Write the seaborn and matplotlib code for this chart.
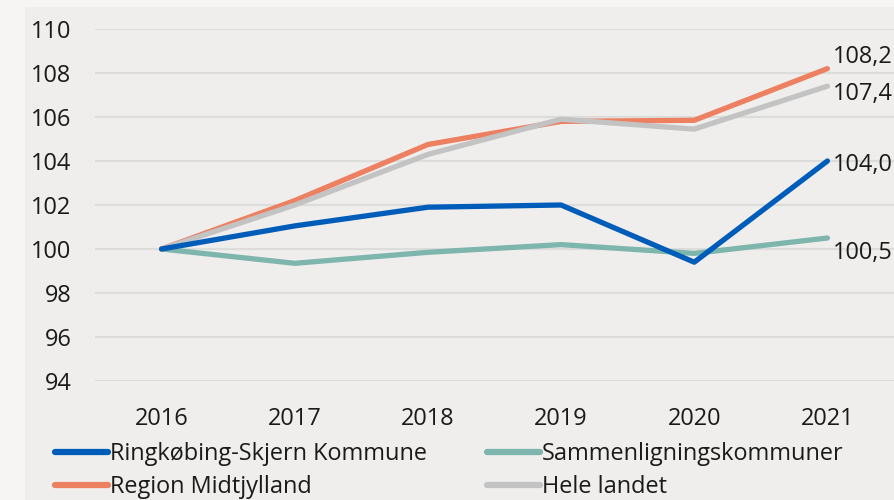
import pandas as pd
import numpy as np
import matplotlib.pyplot as plt
import seaborn as sns
from matplotlib.lines import Line2D

years = ["2016", "2017", "2018", "2019", "2020", "2021"]
series_names = ["Ringkøbing-Skjern Kommune", "Sammenligningskommuner",
                "Region Midtjylland", "Hele landet"]
ringkobing = [100.0, 101.05, 101.9, 102.0, 99.4, 104.0]
sammenlign = [100.0, 99.35, 99.85, 100.2, 99.8, 100.5]
region = [100.0, 102.2, 104.75, 105.8, 105.85, 108.2]
hele_landet = [100.0, 102.0, 104.3, 105.9, 105.45, 107.4]
colors = ["#005cb9", "#7eb6ae", "#ec8060", "#c3c3c3"]
yticks = [94, 96, 98, 100, 102, 104, 106, 108, 110]

rows = []
for name, vals in zip(series_names, [ringkobing, sammenlign, region, hele_landet]):
    for yr, v in zip(years, vals):
        rows.append({"year": yr, "value": v, "serie": name})
df = pd.DataFrame(rows)

sns.set_style("white")
plt.rcParams['font.family'] = ['Open Sans', 'DejaVu Sans']
fs = 16.9

fig = plt.figure(figsize=(8.94, 5), dpi=100, facecolor="#f6f5f4")
# panel background (own axes, behind everything)
bg = fig.add_axes([25 / 894, 0, 1 - 25 / 894, 1 - 7 / 500], zorder=-5)
bg.set_facecolor("#efeeed")
bg.set_xticks([])
bg.set_yticks([])
for s in bg.spines.values():
    s.set_visible(False)

# title, mostly cut off at the top
fig.text(-0.005, 1.028, "Ejendomspriser (2016=100)", fontsize=19, fontweight="bold",
         color="#111111", ha="left", va="center")

ax = fig.add_axes([95 / 894, 1 - 381 / 500, 1 - 95 / 894, (381 - 29) / 500])
ax.set_facecolor("none")

# draw grey and orange first so blue/teal stay on top like the original
order = ["Region Midtjylland", "Hele landet", "Sammenligningskommuner", "Ringkøbing-Skjern Kommune"]
pal = dict(zip(series_names, colors))
for name in order:
    sns.lineplot(data=df[df.serie == name], x="year", y="value", color=pal[name],
                 linewidth=3.8, ax=ax, sort=False, solid_capstyle="round", legend=False)

ax.set_xlim(-0.5, 5.5)
ax.set_ylim(94, 110)
ax.set_yticks(yticks)
ax.yaxis.grid(True, color="#dcdcdb", linewidth=1.6)
ax.set_axisbelow(True)
for s in ax.spines.values():
    s.set_visible(False)
ax.tick_params(axis="y", length=0, pad=17, labelsize=fs, labelcolor="#1a1a1a")
ax.tick_params(axis="x", length=0, pad=19, labelsize=fs, labelcolor="#1a1a1a")
ax.set_xlabel("")
ax.set_ylabel("")

# end labels
last = len(years) - 1
offsets = {"Region Midtjylland": 0.55, "Hele landet": -0.35,
           "Ringkøbing-Skjern Kommune": -0.2, "Sammenligningskommuner": -0.7}
for name, vals in zip(series_names, [ringkobing, sammenlign, region, hele_landet]):
    ax.text(last + 0.04, vals[-1] + offsets[name], f"{vals[-1]:.1f}".replace(".", ","),
            fontsize=fs, color="#1a1a1a", ha="left", va="center", clip_on=False)

# legend filled row-wise: row 1 = kommune + sammenligning, row 2 = region + landet
leg_order = [0, 2, 1, 3]
handles = [Line2D([0], [0], color=colors[i], linewidth=4.5, solid_capstyle="round") for i in leg_order]
labels = [series_names[i] for i in leg_order]
fig.legend(handles, labels, loc="upper left", bbox_to_anchor=(55 / 894, 1 - 442 / 500),
           ncol=2, frameon=False, fontsize=fs, handlelength=2.25, handletextpad=0.1,
           columnspacing=2.55, labelspacing=0.4, borderaxespad=0, borderpad=0,
           labelcolor="#1a1a1a")

fig.savefig("out.png", dpi=100, facecolor=fig.get_facecolor())
